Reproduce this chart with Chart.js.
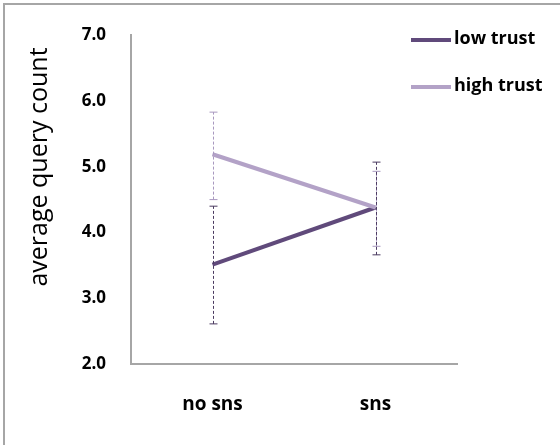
<!DOCTYPE html>
<html lang="en">
<head>
  <meta charset="UTF-8">
  <title>average query count</title>
  <style>
    html, body { margin: 0; padding: 0; background: #fff; }
    #chartWrap { width: 560px; height: 445px; }
  </style>
</head>
<body>
  <div id="chartWrap">
    <canvas id="chartTrust" width="560" height="445"></canvas>
  </div>

  <script src="https://cdn.jsdelivr.net/npm/chart.js@4/dist/chart.umd.min.js"></script>
  <script>
    // 데이터
    const categories = ['no sns', 'sns'];
    const seriesNames = ['low trust', 'high trust'];
    const lowTrust = [3.51, 4.38];
    const highTrust = [5.19, 4.38];
    // error bar (하단 / 상단)
    const lowTrustErrLow = [2.61, 3.66];
    const lowTrustErrHigh = [4.40, 5.07];
    const highTrustErrLow = [4.50, 3.79];
    const highTrustErrHigh = [5.83, 4.93];
    const yTicks = [2, 3, 4, 5, 6, 7];
    const yTitle = 'average query count';

    const colLow = '#604a7b';
    const colHigh = '#b3a2c7';

    // 바깥 테두리 (왼쪽, 위)
    const framePlugin = {
      id: 'frame',
      beforeDraw(chart) {
        const c = chart.ctx;
        c.save();
        c.strokeStyle = '#a6a6a6';
        c.lineWidth = 2;
        c.beginPath();
        c.moveTo(4, chart.height);
        c.lineTo(4, 4);
        c.lineTo(chart.width, 4);
        c.stroke();
        c.restore();
      }
    };

    // error bar 그리기
    const errorBarPlugin = {
      id: 'errorBars',
      afterDatasetsDraw(chart) {
        const c = chart.ctx;
        const xs = chart.scales.x;
        const ys = chart.scales.y;
        chart.data.datasets.forEach((ds) => {
          c.save();
          c.strokeStyle = ds.errColor;
          c.lineWidth = 1;
          ds.errLow.forEach((lo, i) => {
            const x = Math.round(xs.getPixelForValue(i)) + 0.5;
            const y1 = ys.getPixelForValue(lo);
            const y2 = ys.getPixelForValue(ds.errHigh[i]);
            c.setLineDash([3, 2]);
            c.beginPath();
            c.moveTo(x, y1);
            c.lineTo(x, y2);
            c.stroke();
            c.setLineDash([]);
            c.beginPath();
            c.moveTo(x - 4, y1); c.lineTo(x + 4, y1);
            c.moveTo(x - 4, y2); c.lineTo(x + 4, y2);
            c.stroke();
          });
          c.restore();
        });
      }
    };

    // 범례 + y축 제목
    const legendPlugin = {
      id: 'customLegend',
      afterDraw(chart) {
        const c = chart.ctx;
        c.save();
        seriesNames.forEach((name, i) => {
          const ds = chart.data.datasets.find(d => d.label === name);
          const y = 40 + i * 47;
          c.strokeStyle = ds.borderColor;
          c.lineWidth = 4;
          c.beginPath();
          c.moveTo(411, y);
          c.lineTo(451, y);
          c.stroke();
          c.fillStyle = '#000';
          c.font = 'bold 18px "Open Sans"';
          c.textBaseline = 'middle';
          c.textAlign = 'left';
          c.fillText(name, 454, y - 1);
        });
        // y축 제목
        c.translate(40, 167);
        c.rotate(-Math.PI / 2);
        c.font = '25px "Open Sans"';
        c.textAlign = 'center';
        c.textBaseline = 'middle';
        c.fillStyle = '#000';
        c.fillText(yTitle, 0, 0);
        c.restore();
      }
    };

    new Chart(document.getElementById('chartTrust'), {
      type: 'line',
      plugins: [framePlugin, errorBarPlugin, legendPlugin],
      data: {
        labels: categories,
        datasets: [
          {
            label: seriesNames[1],
            data: highTrust,
            borderColor: colHigh,
            errColor: '#a898bf',
            errLow: highTrustErrLow,
            errHigh: highTrustErrHigh,
            borderWidth: 4,
            pointRadius: 0,
            tension: 0
          },
          {
            label: seriesNames[0],
            data: lowTrust,
            borderColor: colLow,
            errColor: '#4a3a60',
            errLow: lowTrustErrLow,
            errHigh: lowTrustErrHigh,
            borderWidth: 4,
            pointRadius: 0,
            tension: 0
          }
        ]
      },
      options: {
        responsive: false,
        animation: false,
        layout: {
          padding: { top: 30, right: 103, bottom: 0, left: 0 }
        },
        plugins: {
          legend: { display: false },
          tooltip: { enabled: false }
        },
        scales: {
          x: {
            offset: true,
            grid: { display: false, drawTicks: false },
            border: { display: true, color: '#a6a6a6', width: 2 },
            ticks: {
              padding: 29,
              color: '#000',
              font: { family: 'Open Sans', weight: 'bold', size: 19 }
            },
            afterFit(scale) { scale.height = 81; }
          },
          y: {
            min: 2,
            max: 7,
            grid: { display: false, drawTicks: false },
            border: { display: true, color: '#a6a6a6', width: 2 },
            afterBuildTicks(scale) {
              scale.ticks = yTicks.map(v => ({ value: v }));
            },
            ticks: {
              padding: 25,
              color: '#000',
              font: { family: 'Open Sans', weight: 'bold', size: 17 },
              callback: (v) => Number(v).toFixed(1)
            },
            afterFit(scale) { scale.width = 131; }
          }
        }
      }
    });
  </script>
</body>
</html>
